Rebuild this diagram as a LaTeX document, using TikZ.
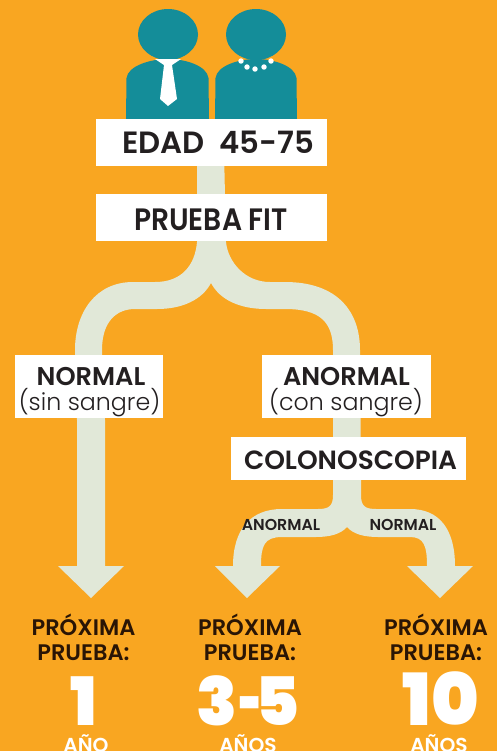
\documentclass[tikz,border=0pt]{standalone}
\usepackage{fontspec}
\setmainfont{Poppins}
\newfontfamily\demifont{Poppins}[UprightFont=* SemiBold]
\newfontfamily\narrowfont{Poppins}[UprightFont=* SemiBold, FakeStretch=0.91]
\newfontfamily\lightfont{Poppins}[UprightFont=* Light]
\newfontfamily\heavyfont{Poppins}[UprightFont=* Black]
\usetikzlibrary{positioning}
\definecolor{fondo}{HTML}{F9A621}
\definecolor{teal}{HTML}{148D99}
\definecolor{rama}{HTML}{E1E8D8}
\definecolor{tinta}{HTML}{231F20}
\definecolor{oscuro}{HTML}{2A1505}
\def\px{0.569pt}
\tikzset{
  caja/.style={fill=white, inner sep=0pt},
  titulo/.style={text=tinta, inner sep=0pt, anchor=base, font=\fontsize{14.6}{17}\selectfont\demifont},
  nota/.style={text=tinta, inner sep=0pt, anchor=base, font=\fontsize{13.5}{14}\selectfont\lightfont},
  rotulo/.style={text=tinta, inner sep=0pt, font=\fontsize{9}{10}\selectfont\demifont},
  proxima/.style={text=oscuro, inner sep=0pt, align=center, font=\fontsize{12.8}{14.2}\selectfont\demifont},
  cifra/.style={text=white, inner sep=0pt, anchor=base, font=\fontsize{38}{38}\selectfont\heavyfont},
  unidad/.style={text=white, inner sep=0pt, anchor=base, font=\fontsize{11.5}{13}\selectfont\demifont},
  cuerpo/.style={fill=teal},
  rama/.style={fill=rama},
  perla/.style={circle, fill=white, inner sep=0pt, minimum size=3.1pt}
}
\begin{document}
\begin{tikzpicture}[x=0.02cm, y=-0.02cm]
  \fill[fondo] (0,0) rectangle (497,751);
  \useasboundingbox (0,0) rectangle (497,751);

  % Left figure
  \fill[cuerpo] (168,34.5) ellipse (30 and 25.5);
  \fill[cuerpo] (126,119) -- (126.5,78) .. controls (128,66) and (150,59) .. (168,59)
    .. controls (186,59) and (207,66) .. (208.5,78) -- (209,119) -- cycle;
  \fill[white] (155,59) -- (181,59) -- (172,65) -- (177,99) -- (168,106) -- (160,99) -- (164,65) -- cycle;

  % Right figure
  \fill[cuerpo] (256,34.5) ellipse (30 and 25.5);
  \fill[cuerpo] (215,119) -- (215.5,78) .. controls (217,66) and (238,59) .. (256,59)
    .. controls (274,59) and (295,66) .. (296.5,78) -- (297,119) -- cycle;
  \node[perla] (p1) at (241,61) {};
  \node[perla] (p2) at (247,67) {};
  \node[perla] (p3) at (255,69) {};
  \node[perla] (p4) at (264,67) {};
  \node[perla] (p5) at (271,61) {};

  % Trunk and branches
  \fill[rama] (197,150) -- (197,242) .. controls (195,265) and (182,282) .. (155,282)
    -- (133,282) .. controls (96,282) and (75,312) .. (75,350)
    -- (77,420) -- (77,566) -- (58,566) -- (91,598) -- (124,566) -- (105,566) -- (105,420) -- (102,350)
    .. controls (102,322) and (116,309) .. (135,309)
    -- (157,309) .. controls (182,309) and (202,300) .. (211,283)
    .. controls (220,300) and (240,309) .. (266,309)
    -- (285,309) .. controls (320,309) and (333,322) .. (333,350)
    -- (333,480) -- (361,480) -- (360,350)
    .. controls (360,312) and (338,282) .. (285,282)
    -- (270,282) .. controls (245,282) and (228,262) .. (226,242) -- (224,150) -- cycle;

  % Lower fork
  \fill[rama] (333,478) -- (333,495) .. controls (333,506) and (329,509) .. (318,509)
    -- (282,509) .. controls (250,509) and (233,530) .. (233,566) -- (215,566) -- (247,598) -- (280,566)
    -- (261,566) .. controls (261,546) and (264,537) .. (282,537)
    -- (316,537) .. controls (330,537) and (341,534) .. (347,527)
    .. controls (353,534) and (364,537) .. (378,537)
    -- (410,537) .. controls (424,537) and (427,546) .. (427,566) -- (407,566) -- (440,598) -- (473,566)
    -- (455,566) .. controls (455,530) and (440,509) .. (410,509)
    -- (376,509) .. controls (365,509) and (361,506) .. (361,495) -- (361,478) -- cycle;

  % Boxes
  \node[caja, minimum width=231*\px, minimum height=47*\px] (edad) at (211.5,142.5) {};
  \node[caja, minimum width=231*\px, minimum height=47*\px] (fit) at (211.5,217.5) {};
  \node[caja, minimum width=148*\px, minimum height=63*\px] (normal) at (89,386.5) {};
  \node[caja, minimum width=169*\px, minimum height=63*\px] (anormal) at (346.5,386.5) {};
  \node[caja, minimum width=235*\px, minimum height=43*\px] (colono) at (348.5,458.5) {};

  % Box texts
  \node[titulo, font=\fontsize{17.5}{19}\selectfont\demifont] (edadtxt) at (218,153) {EDAD\ \ 45-75};
  \node[titulo, font=\fontsize{17.6}{19}\selectfont\narrowfont] (fittxt) at (211,230) {PRUEBA FIT};
  \node[titulo] (normaltxt) at (91,385) {NORMAL};
  \node[nota] (sintxt) at (89.5,410) {(sin sangre)};
  \node[titulo] (anormaltxt) at (346.5,385) {ANORMAL};
  \node[nota] (contxt) at (346,410) {(con sangre)};
  \node[titulo, font=\fontsize{15}{17}\selectfont\demifont] (colonotxt) at (350.5,469) {COLONOSCOPIA};

  % Labels
  \node[rotulo] (lanormal) at (281,525) {ANORMAL};
  \node[rotulo] (lnormal) at (403,525) {NORMAL};
  \node[proxima] (px1) at (83.5,637) {PRÓXIMA\\PRUEBA:};
  \node[proxima] (px2) at (250,637) {PRÓXIMA\\PRUEBA:};
  \node[proxima] (px3) at (436,637) {PRÓXIMA\\PRUEBA:};
  \node[cifra] (n1) at (84,725) {1};
  \node[cifra] (n2) at (248,725) {3\kern1pt\scalebox{0.6}[1]{-}\kern-4pt5};
  \node[cifra, font=\fontsize{41}{41}\selectfont\heavyfont] (n3) at (441,725) {10};
  \node[unidad] (a1) at (86,752) {AÑO};
  \node[unidad] (a2) at (248,752) {AÑOS};
  \node[unidad] (a3) at (439,752) {AÑOS};
\end{tikzpicture}
\end{document}
